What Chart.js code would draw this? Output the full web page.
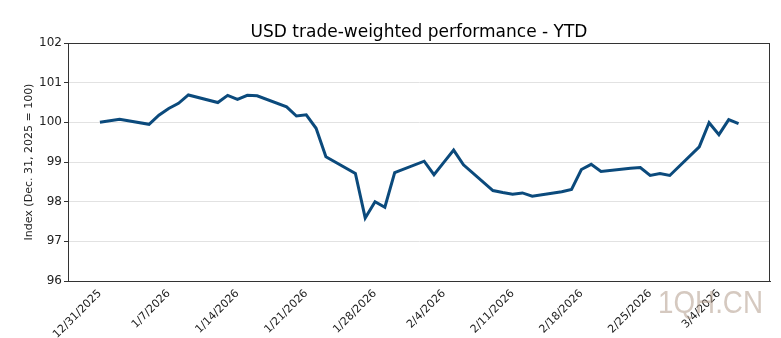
<!DOCTYPE html>
<html>
<head>
<meta charset="utf-8">
<script src="https://cdn.jsdelivr.net/npm/chart.js@4"></script>
<style>
  html, body { margin: 0; padding: 0; background: #fff; }
  #wrap { width: 781px; height: 338px; position: relative; }
</style>
</head>
<body>
<div id="wrap"><canvas id="myChart"></canvas></div>
<script>
// trading days
const dates = [
  "2025-12-31", "2026-01-02", "2026-01-05", "2026-01-06", "2026-01-07", "2026-01-08", "2026-01-09",
  "2026-01-12", "2026-01-13", "2026-01-14", "2026-01-15", "2026-01-16",
  "2026-01-19", "2026-01-20", "2026-01-21", "2026-01-22", "2026-01-23",
  "2026-01-26", "2026-01-27", "2026-01-28", "2026-01-29", "2026-01-30",
  "2026-02-02", "2026-02-03", "2026-02-04", "2026-02-05", "2026-02-06",
  "2026-02-09", "2026-02-10", "2026-02-11", "2026-02-12", "2026-02-13",
  "2026-02-16", "2026-02-17", "2026-02-18", "2026-02-19", "2026-02-20",
  "2026-02-23", "2026-02-24", "2026-02-25", "2026-02-26", "2026-02-27",
  "2026-03-02", "2026-03-03", "2026-03-04", "2026-03-05", "2026-03-06"
];

// index values (Dec. 31, 2025 = 100)
const usdIndex = [
  100.0, 100.08, 99.95, 100.18, 100.35, 100.48, 100.69,
  100.5, 100.68, 100.58, 100.68, 100.67,
  100.39, 100.16, 100.19, 99.85, 99.13,
  98.71, 97.59, 98.0, 97.86, 98.73,
  99.02, 98.68, 98.99, 99.3, 98.93,
  98.28, 98.23, 98.19, 98.22, 98.14,
  98.25, 98.31, 98.81, 98.94, 98.76,
  98.84, 98.86, 98.66, 98.71, 98.66,
  99.38, 99.99, 99.69, 100.07, 99.97
];

const tickLabels = [
  "12/31/2025", "1/7/2026", "1/14/2026", "1/21/2026", "1/28/2026",
  "2/4/2026", "2/11/2026", "2/18/2026", "2/25/2026", "3/4/2026"
];

const yTicks = [96, 97, 98, 99, 100, 101, 102];

const titleText = "USD trade-weighted performance - YTD";

// days since 12/31/2025 (no date adapter, so a linear x axis)
const DAY = 86400000;
const base = Date.UTC(2025, 11, 31);
function dayOf(iso) {
  const [y, m, d] = iso.split("-").map(Number);
  return (Date.UTC(y, m - 1, d) - base) / DAY;
}
function dayOfLabel(lbl) {
  const [m, d, y] = lbl.split("/").map(Number);
  return (Date.UTC(y, m - 1, d) - base) / DAY;
}
const tickDays = tickLabels.map(dayOfLabel);
const points = dates.map((d, i) => ({ x: dayOf(d), y: usdIndex[i] }));

// 🖼 box around plot, title centred over the plot, watermark
const frame = {
  id: "frame",
  afterDraw(chart) {
    const { ctx, chartArea: a } = chart;
    ctx.save();
    ctx.strokeStyle = "#333";
    ctx.lineWidth = 1;
    ctx.strokeRect(a.left + 0.5, a.top + 0.5, a.right - a.left - 1, a.bottom - a.top);

    ctx.font = "17px 'DejaVu Sans', sans-serif";
    ctx.fillStyle = "#000";
    ctx.textAlign = "center";
    ctx.textBaseline = "alphabetic";
    ctx.fillText(titleText, (a.left + a.right) / 2, 37);

    ctx.font = "32px 'Liberation Sans', sans-serif";
    ctx.fillStyle = "rgba(185,165,150,0.6)";
    ctx.textAlign = "left";
    ctx.fillText("1QH.CN", 658, 313, 105);
    ctx.restore();
  }
};

const ctx = document.getElementById("myChart").getContext("2d");
new Chart(ctx, {
  type: "line",
  data: {
    datasets: [{
      label: "USD",
      data: points,
      borderColor: "#0b4a7c",
      borderWidth: 3,
      pointRadius: 0,
      tension: 0,
      fill: false
    }]
  },
  options: {
    responsive: true,
    maintainAspectRatio: false,
    animation: false,
    layout: { padding: { left: 23, right: 11, top: 43, bottom: 0 } },
    plugins: {
      legend: { display: false },
      tooltip: { enabled: false },
      title: { display: false }
    },
    scales: {
      x: {
        type: "linear",
        min: -3.25,
        max: 68.2,
        afterBuildTicks: s => { s.ticks = tickDays.map(v => ({ value: v })); },
        afterFit: s => { s.height = 57; },
        grid: { display: false, drawOnChartArea: false, drawTicks: true, tickLength: 4, tickColor: "#333" },
        border: { color: "#333" },
        ticks: {
          autoSkip: false,
          minRotation: 45,
          maxRotation: 45,
          padding: 2,
          color: "#222",
          font: { family: "'DejaVu Sans', sans-serif", size: 11 },
          callback: v => tickLabels[tickDays.indexOf(v)] || ""
        }
      },
      y: {
        min: 96,
        max: 102,
        afterBuildTicks: s => { s.ticks = yTicks.map(v => ({ value: v })); },
        afterFit: s => { s.width = 45; },
        grid: { color: "#e2e2e2", lineWidth: 1, tickLength: 4, tickColor: "#333" },
        border: { color: "#333" },
        title: {
          display: true,
          text: "Index (Dec. 31, 2025 = 100)",
          color: "#222",
          font: { family: "'DejaVu Sans', sans-serif", size: 11 },
          padding: 0
        },
        ticks: {
          padding: 2,
          color: "#222",
          font: { family: "'DejaVu Sans', sans-serif", size: 12 }
        }
      }
    }
  },
  plugins: [frame]
});
</script>
</body>
</html>
